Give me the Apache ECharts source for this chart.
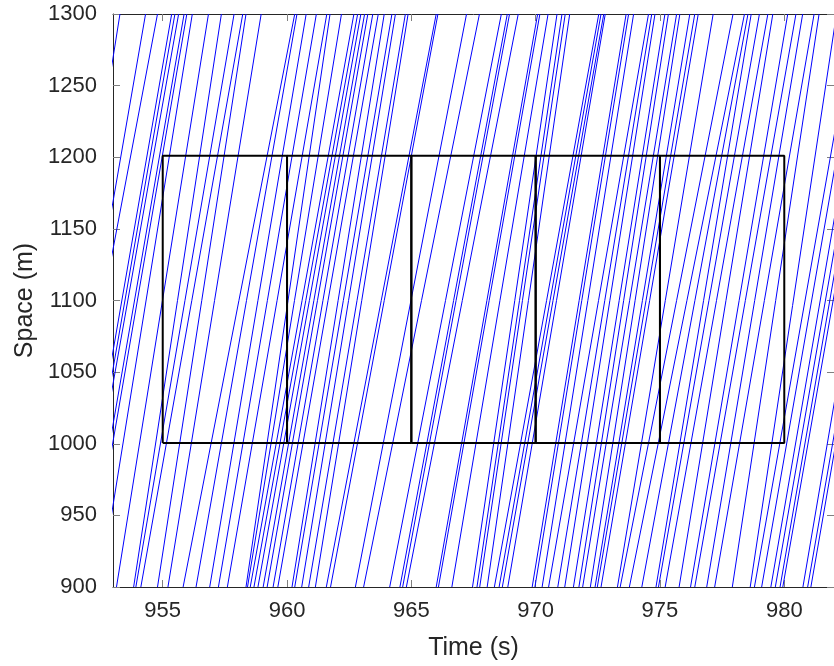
<!DOCTYPE html>
<html>
<head>
<meta charset="utf-8">
<script src="https://cdn.jsdelivr.net/npm/echarts@6/dist/echarts.min.js"></script>
<style>
  html, body { margin: 0; padding: 0; background: #fff; }
  #chart { width: 834px; height: 666px; }
</style>
</head>
<body>
<div id="chart"></div>
<script>
// Vehicle trajectories: time (s) when each one passes 900 m and 1300 m
const t900 = [
  949.63, 950.31, 950.43, 951.35, 951.47, 951.55, 951.87, 951.99, 952.47, 953.14,
  953.83, 953.92, 954.12, 954.79, 955.21, 955.82, 956.34, 956.89, 957.24, 957.60,
  958.35, 958.41, 958.52, 958.67, 958.83, 959.04, 959.20, 959.44, 959.63, 960.20,
  960.31, 960.59, 960.87, 961.14, 961.58, 961.75, 962.75, 963.08, 964.13, 964.54,
  964.65, 964.80, 966.00, 966.09, 966.63, 967.46, 967.64, 967.75, 968.05, 968.34,
  968.53, 968.66, 968.88, 969.86, 969.97, 970.26, 970.52, 970.89, 971.17, 971.52,
  971.74, 971.89, 972.20, 972.39, 972.48, 972.63, 973.29, 973.40, 973.77, 974.27,
  974.84, 974.94, 975.21, 975.77, 976.23, 976.40, 976.88, 977.20, 977.91, 978.63,
  978.80, 979.09, 979.46, 979.64, 979.83, 979.94, 980.75, 980.94, 981.07
]
const t1300 = [
  953.28, 954.31, 954.79, 955.36, 955.49, 955.64, 955.86, 955.97, 956.19, 956.84,
  957.36, 957.87, 958.22, 958.35, 958.96, 960.31, 960.40, 960.77, 961.18, 961.60,
  961.73, 962.19, 962.69, 962.84, 962.97, 963.12, 963.25, 963.45, 963.67, 963.91,
  964.22, 964.36, 964.76, 964.87, 966.00, 966.07, 967.22, 967.74, 968.62, 968.86,
  968.95, 969.30, 970.08, 970.17, 970.50, 970.86, 971.06, 971.19, 971.37, 972.54,
  972.63, 972.74, 972.80, 973.64, 973.74, 973.94, 974.54, 974.67, 974.80, 975.20,
  975.34, 975.67, 975.80, 976.20, 976.40, 976.54, 977.14, 977.94, 978.40, 978.54,
  978.67, 979.00, 979.34, 979.54, 980.14, 980.47, 980.74, 981.20, 981.40, 982.10,
  982.87, 983.11, 983.43, 983.67, 983.83, 983.99, 984.67, 984.95, 985.07
]

// Measurement boxes (black)
const boxEdges = [955, 960, 965, 970, 975, 980]
const boxSpace = [1000.5, 1201]

const xTicks = [955, 960, 965, 970, 975, 980]

const FONT = 'Liberation Sans'
const TEXT = '#262626'
const AXIS = '#262626'

const chart = echarts.init(document.getElementById('chart'))

const trajSeries = t900.map((t0, i) => ({
  type: 'line',
  silent: true,
  symbol: 'none',
  clip: true,
  lineStyle: { color: '#0000ff', width: 1 },
  data: [[t0, 900], [t1300[i], 1300]],
  z: 2
}))

const boxSeries = boxEdges.slice(0, -1).map((a, i) => {
  const b = boxEdges[i + 1]
  return {
    type: 'line',
    silent: true,
    symbol: 'none',
    lineStyle: { color: '#000', width: 2 },
    data: [[a, boxSpace[0]], [a, boxSpace[1]], [b, boxSpace[1]], [b, boxSpace[0]], [a, boxSpace[0]]],
    z: 3
  }
})

const tickStyle = { inside: true, length: 7, lineStyle: { color: '#7f7f7f', width: 1 } }

chart.setOption({
  animation: false,
  backgroundColor: '#fff',
  grid: { left: 113, right: -2, top: 14, bottom: 79, containLabel: false },
  xAxis: [
    {
      type: 'value',
      min: 953,
      max: 982,
      name: 'Time (s)',
      nameLocation: 'middle',
      nameGap: 49,
      nameTextStyle: { fontFamily: FONT, fontSize: 25, color: TEXT },
      axisLine: { lineStyle: { color: AXIS, width: 1 } },
      axisTick: { ...tickStyle, customValues: xTicks },
      axisLabel: { customValues: xTicks, fontFamily: FONT, fontSize: 22, color: TEXT, margin: 13 },
      splitLine: { show: false }
    },
    {
      type: 'value',
      position: 'top',
      min: 953,
      max: 982,
      axisLine: { show: true, lineStyle: { color: AXIS, width: 1 } },
      axisTick: { ...tickStyle, customValues: xTicks },
      axisLabel: { show: false },
      splitLine: { show: false }
    }
  ],
  yAxis: [
    {
      type: 'value',
      min: 900,
      max: 1300,
      interval: 50,
      name: 'Space (m)',
      nameLocation: 'middle',
      nameGap: 62,
      nameTextStyle: { fontFamily: FONT, fontSize: 25, color: TEXT },
      axisLine: { show: true, lineStyle: { color: AXIS, width: 1 } },
      axisTick: tickStyle,
      axisLabel: { fontFamily: FONT, fontSize: 22, color: TEXT, margin: 16, formatter: v => String(v) },
      splitLine: { show: false }
    },
    {
      type: 'value',
      position: 'right',
      min: 900,
      max: 1300,
      interval: 50,
      axisLine: { show: true, lineStyle: { color: AXIS, width: 1 } },
      axisTick: tickStyle,
      axisLabel: { show: false },
      splitLine: { show: false }
    }
  ],
  series: [...trajSeries, ...boxSeries]
})
</script>
</body>
</html>
